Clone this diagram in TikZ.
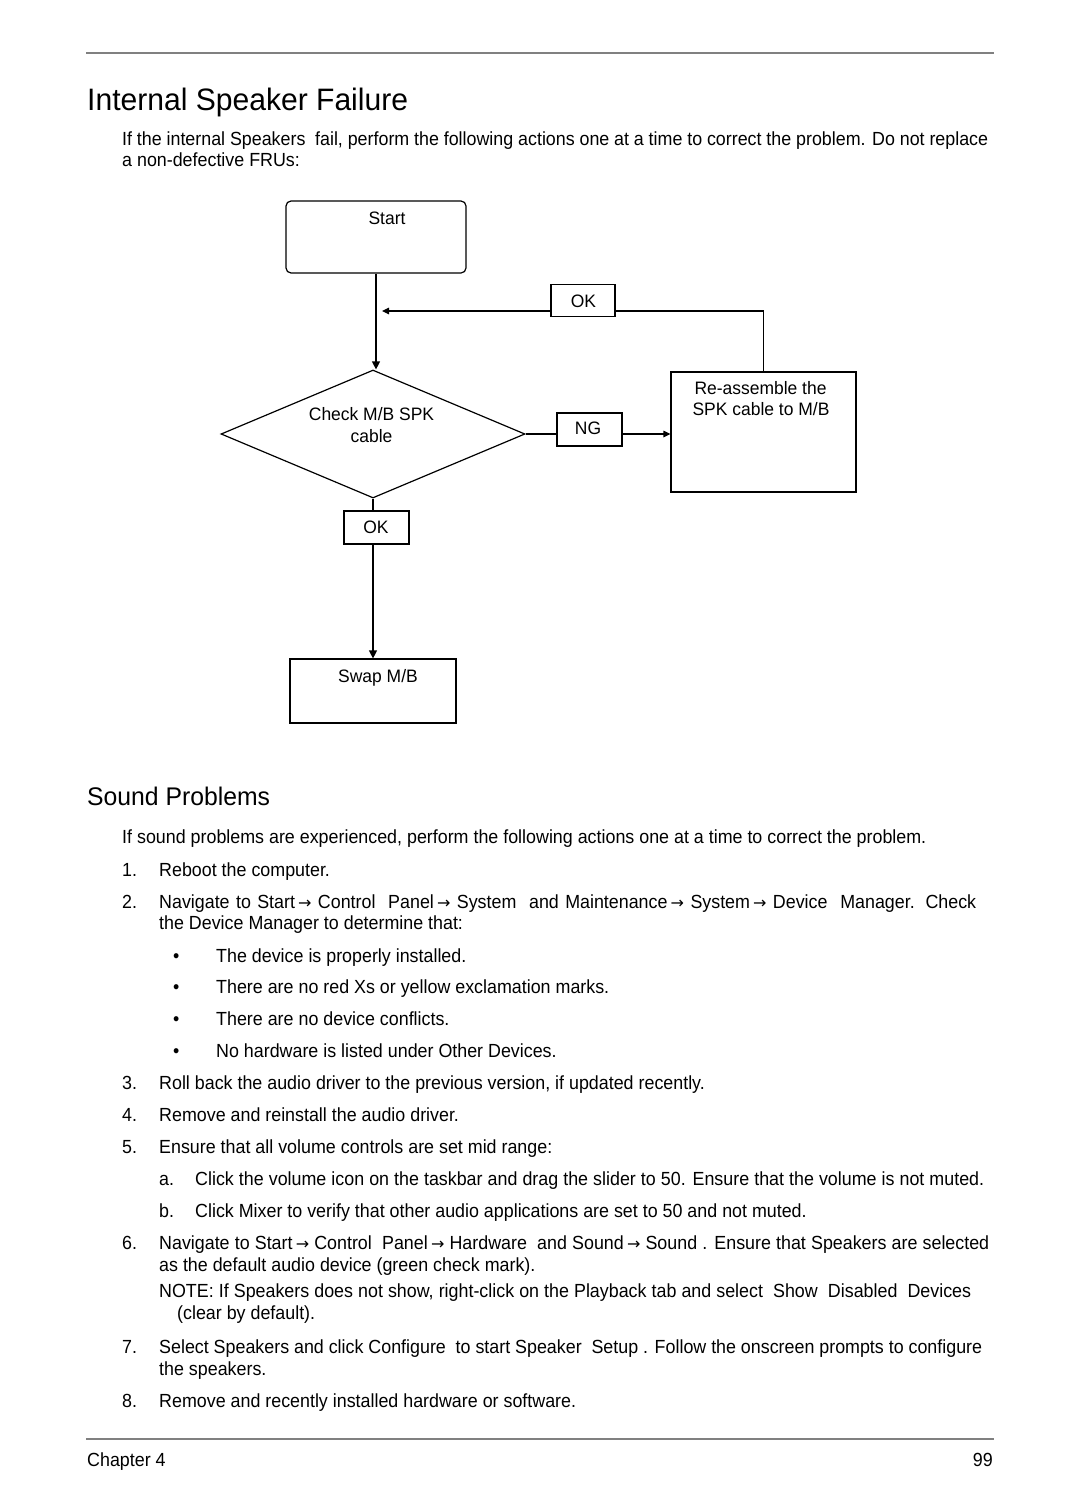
\documentclass[tikz,border=0pt]{standalone}
\usepackage{fontspec}
\setmainfont{Liberation Sans}[FakeStretch=0.94]
\newfontfamily\titlefont{Liberation Sans}[FakeStretch=0.97]
\newfontfamily\chartfont{Liberation Sans}[FakeStretch=0.97]
\newfontfamily\arrowfont{DejaVu Sans}
\usetikzlibrary{arrows.meta,shapes.geometric}
\newcommand{\ar}{\,{\arrowfont\fontsize{16}{18}\selectfont →}\ }
\newcommand{\jline}[2]{\makebox[#1pt][s]{#2}}
\begin{document}
\begin{tikzpicture}[x=1pt,y=-1pt,
  bt/.style={anchor=base west,inner sep=0pt,font=\fontsize{19}{22}\selectfont},
  h1/.style={anchor=base west,inner sep=0pt,font=\titlefont\fontsize{31}{36}\selectfont},
  h2/.style={anchor=base west,inner sep=0pt,font=\titlefont\fontsize{25.5}{30}\selectfont},
  ft/.style={inner sep=0pt,font=\fontsize{19}{22}\selectfont},
  ct/.style={anchor=base,inner sep=0pt,font=\chartfont\fontsize{18}{22}\selectfont},
  box/.style={draw,line width=1.2pt,inner sep=0pt,rectangle},
  conn/.style={line width=1.2pt},
  arr/.style={line width=1.2pt,-{Triangle[length=8pt,width=8pt]}},
  arrs/.style={line width=1.2pt,-{Triangle[length=7pt,width=6.5pt]}},
  rule/.style={draw=black!50,line width=2pt}]
\useasboundingbox (0,0) rectangle (1080,1512);

% rules
\coordinate (r1a) at (86,53); \coordinate (r1b) at (994,53);
\draw[rule] (r1a) -- (r1b);
\coordinate (r2a) at (86,1439); \coordinate (r2b) at (994,1439);
\draw[rule] (r2a) -- (r2b);

% headings
\node[h1] (title) at (87,110.5) {Internal Speaker Failure};
\node[bt] (i1) at (122,145) {\jline{866}{If the internal Speakers\ \ fail, perform the following actions one at a time to correct the problem. Do not replace}};
\node[bt] (i2) at (122,166) {a non-defective FRUs:};

% flowchart
\node[box,rounded corners=5pt,minimum width=180pt,minimum height=72pt] (start) at (376,237) {};
\node[ct] (tstart) at (387,224) {Start};

\node[box,minimum width=64pt,minimum height=32pt] (okt) at (583,300.5) {};
\node[ct] (tokt) at (583.5,307) {OK};

\node[draw,line width=1.2pt,diamond,minimum width=304pt,minimum height=128pt,inner sep=0pt] (dia) at (373,434) {};
\node[ct] (td1) at (371.5,420) {Check M/B SPK};
\node[ct] (td2) at (371.5,442) {cable};

\node[box,minimum width=65pt,minimum height=33pt] (ng) at (589.5,429.5) {};
\node[ct] (tng) at (588,434) {NG};

\node[box,minimum width=185pt,minimum height=120pt] (reasm) at (763.5,432) {};
\node[ct] (tr1) at (760.5,394) {Re-assemble the};
\node[ct] (tr2) at (761,415) {SPK cable to M/B};

\node[box,minimum width=65pt,minimum height=33pt] (okb) at (376.5,527.5) {};
\node[ct] (tokb) at (376,533) {OK};

\node[box,minimum width=166pt,minimum height=64pt] (swap) at (373,691) {};
\node[ct] (tswap) at (378,682) {Swap M/B};

\coordinate (merge) at (382,311);
\draw[arr] (start.south) -- (start.south |- dia.north);
\draw[conn] (reasm.north) |- ([yshift=-10.5pt]okt.east);
\draw[arrs] ([yshift=-10.5pt]okt.west) -- (merge);
\draw[conn] (dia.east) -- (dia.east -| ng.west);
\draw[arrs] (ng.east |- dia.east) -- (dia.east -| reasm.west);
\draw[conn] (dia.south) -- (dia.south |- okb.north);
\draw[arr] (okb.south -| dia.south) -- (swap.north);

% sound problems
\node[h2] (title2) at (87,805) {Sound Problems};
\node[bt] (s0) at (122,843) {If sound problems are experienced, perform the following actions one at a time to correct the problem.};

\node[bt] (n1) at (122,876) {1.};
\node[bt] (l1) at (159,876) {Reboot the computer.};

\node[bt] (n2) at (122,908) {2.};
\node[bt] (l2a) at (159,908) {\jline{817}{Navigate to Start\ar Control\ \ Panel\ar System\ \ and Maintenance\ar System\ar Device\ \ Manager. Check}};
\node[bt] (l2b) at (159,929) {the Device Manager to determine that:};

\node[bt] (b1) at (173,962) {•};
\node[bt] (lb1) at (216,962) {The device is properly installed.};
\node[bt] (b2) at (173,993) {•};
\node[bt] (lb2) at (216,993) {There are no red Xs or yellow exclamation marks.};
\node[bt] (b3) at (173,1025) {•};
\node[bt] (lb3) at (216,1025) {There are no device conflicts.};
\node[bt] (b4) at (173,1057) {•};
\node[bt] (lb4) at (216,1057) {No hardware is listed under Other Devices.};

\node[bt] (n3) at (122,1089) {3.};
\node[bt] (l3) at (159,1089) {Roll back the audio driver to the previous version, if updated recently.};
\node[bt] (n4) at (122,1121) {4.};
\node[bt] (l4) at (159,1121) {Remove and reinstall the audio driver.};
\node[bt] (n5) at (122,1153) {5.};
\node[bt] (l5) at (159,1153) {Ensure that all volume controls are set mid range:};

\node[bt] (na) at (159,1185) {a.};
\node[bt] (la) at (195,1185) {\jline{789}{Click the volume icon on the taskbar and drag the slider to 50. Ensure that the volume is not muted.}};
\node[bt] (nb) at (159,1217) {b.};
\node[bt] (lb) at (195,1217) {Click Mixer to verify that other audio applications are set to 50 and not muted.};

\node[bt] (n6) at (122,1249) {6.};
\node[bt] (l6a) at (159,1249) {\jline{830}{Navigate to Start\ar Control\ \ Panel\ar Hardware\ \ and Sound\ar Sound . Ensure that Speakers are selected}};
\node[bt] (l6b) at (159,1271) {as the default audio device (green check mark).};
\node[bt] (l6c) at (159,1297) {\jline{812}{NOTE: If Speakers does not show, right-click on the Playback tab and select\ \ Show\ \ Disabled\ \ Devices}};
\node[bt] (l6d) at (177,1319) {(clear by default).};

\node[bt] (n7) at (122,1353) {7.};
\node[bt] (l7a) at (159,1353) {\jline{823}{Select Speakers and click Configure\ \ to start Speaker\ \ Setup . Follow the onscreen prompts to configure}};
\node[bt] (l7b) at (159,1375) {the speakers.};
\node[bt] (n8) at (122,1407) {8.};
\node[bt] (l8) at (159,1407) {Remove and recently installed hardware or software.};

% footer
\node[ft,anchor=base west] (chap) at (87,1466) {Chapter 4};
\node[ft,anchor=base east] (page) at (993,1466) {99};
\end{tikzpicture}
\end{document}
